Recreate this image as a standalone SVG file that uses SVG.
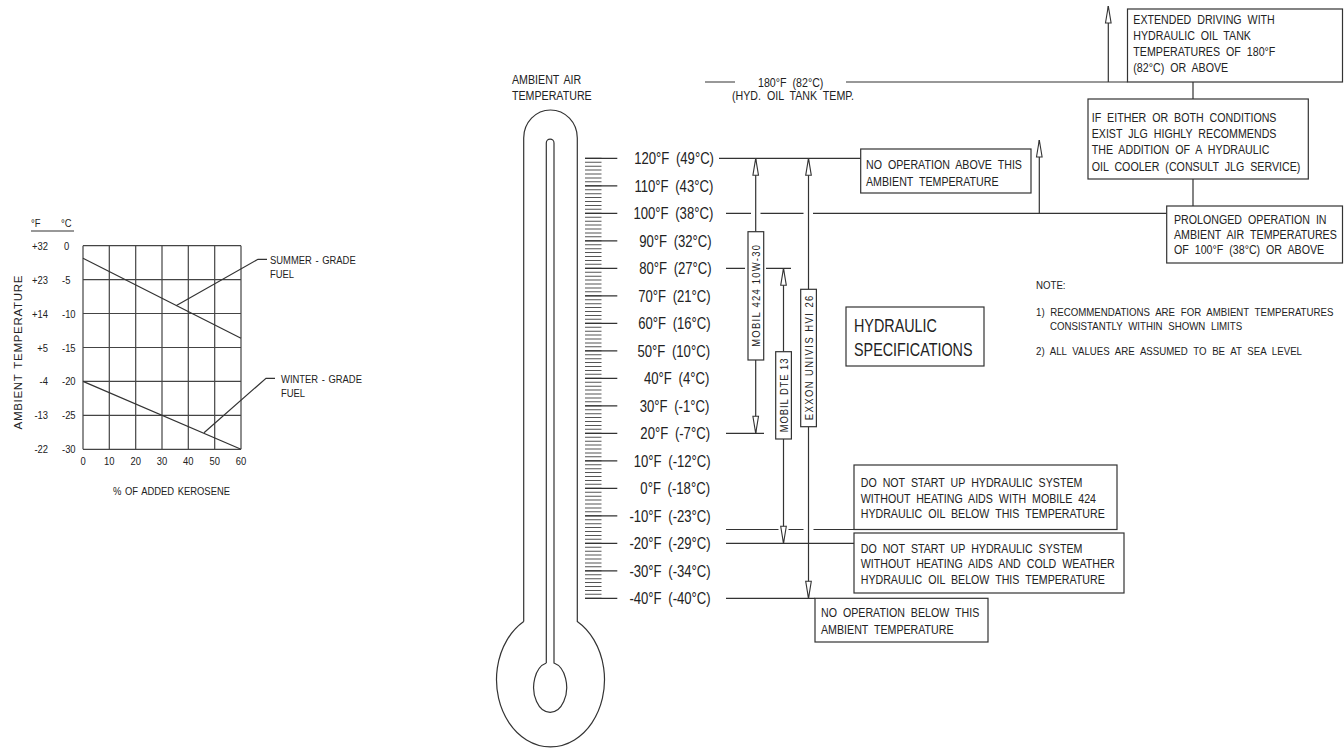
<svg xmlns="http://www.w3.org/2000/svg" width="1344" height="749" viewBox="0 0 1344 749">
<defs>
<style>
.ln{stroke:#333;stroke-width:1.2;fill:none}
.gl{stroke:#444;stroke-width:1.2;fill:none}
.box{fill:#fff;stroke:#333;stroke-width:1.2}
.f{font-family:"Liberation Sans",Arial,sans-serif;fill:#222}
.s11{font-size:11.5px;word-spacing:1.2px}
.s12{font-size:13px;word-spacing:3.66px}
.nt{font-size:11.8px;word-spacing:3.66px}
.hd{font-size:13px;word-spacing:2.4px}
.tl{font-size:16px;word-spacing:3.7px;text-anchor:end}
.big{font-size:17.5px;word-spacing:2.4px}
.bar{font-size:11.5px;text-anchor:middle}
.mid{text-anchor:middle}
.end{text-anchor:end}
.arr{marker-end:url(#ah)}
</style>
<marker id="ah" markerUnits="userSpaceOnUse" markerWidth="20" markerHeight="10" viewBox="-1 -5 20 10" refX="17" refY="0" orient="auto">
<path d="M17 0 L0 -2.8 L0 2.8 Z" fill="#fff" stroke="#333" stroke-width="1.1"/>
</marker>
</defs>
<rect width="1344" height="749" fill="#fff"/>

<!-- Left chart: kerosene -->
<g id="kerosene-chart">
<path class="gl" d="M83 245.7V449.3M109.3 245.7V449.3M135.7 245.7V449.3M162 245.7V449.3M188.3 245.7V449.3M214.7 245.7V449.3M241 245.7V449.3M83 245.7H241M83 279.6H241M83 313.5H241M83 347.5H241M83 381.4H241M83 415.3H241M83 449.3H241"/>
<path class="ln" d="M83 258.3L241 338.3M83 381.4L241 449.3"/>
<path class="ln" d="M176 305.7L258 259.3H267M204 432.7L266 378.3H275M31 231H74"/>
<g class="f s11">
<text transform="matrix(.82 0 0 1 31 227)">°F</text><text transform="matrix(.82 0 0 1 61 227)">°C</text>
<text class="end" transform="matrix(.82 0 0 1 48 249.7)">+32</text><text transform="matrix(.82 0 0 1 64 249.7)">0</text>
<text class="end" transform="matrix(.82 0 0 1 48 283.6)">+23</text><text transform="matrix(.82 0 0 1 62 283.6)">-5</text>
<text class="end" transform="matrix(.82 0 0 1 48 317.5)">+14</text><text transform="matrix(.82 0 0 1 62 317.5)">-10</text>
<text class="end" transform="matrix(.82 0 0 1 48 351.5)">+5</text><text transform="matrix(.82 0 0 1 62 351.5)">-15</text>
<text class="end" transform="matrix(.82 0 0 1 48 385.4)">-4</text><text transform="matrix(.82 0 0 1 62 385.4)">-20</text>
<text class="end" transform="matrix(.82 0 0 1 48 419.3)">-13</text><text transform="matrix(.82 0 0 1 62 419.3)">-25</text>
<text class="end" transform="matrix(.82 0 0 1 48 453.3)">-22</text><text transform="matrix(.82 0 0 1 62 453.3)">-30</text>
<text class="mid" transform="matrix(.82 0 0 1 83 465)">0</text>
<text class="mid" transform="matrix(.82 0 0 1 109.3 465)">10</text>
<text class="mid" transform="matrix(.82 0 0 1 135.7 465)">20</text>
<text class="mid" transform="matrix(.82 0 0 1 162 465)">30</text>
<text class="mid" transform="matrix(.82 0 0 1 188.3 465)">40</text>
<text class="mid" transform="matrix(.82 0 0 1 214.7 465)">50</text>
<text class="mid" transform="matrix(.82 0 0 1 241 465)">60</text>
<text transform="matrix(.82 0 0 1 270 263.5)">SUMMER - GRADE</text><text transform="matrix(.82 0 0 1 270 277.5)">FUEL</text>
<text transform="matrix(.82 0 0 1 281 382.5)">WINTER - GRADE</text><text transform="matrix(.82 0 0 1 281 397)">FUEL</text>
<text transform="matrix(.82 0 0 1 113 495)">% OF ADDED KEROSENE</text>
<text class="mid" transform="translate(17.5 352.5) rotate(-90)" x="0" y="4" textLength="154" lengthAdjust="spacing">AMBIENT TEMPERATURE</text>
</g>
</g>

<!-- Thermometer -->
<g id="thermometer">
<path class="ln" d="M523.7 621.5V138A26.8 28 0 0 1 577.3 138V621.5A54 67.1 0 1 1 523.7 621.5"/>
<path class="ln" d="M546.3 663V143A3.85 3.85 0 0 1 554 143V663A16.5 25 0 1 1 546.3 663"/>
<line x1="593.25" y1="157.8" x2="593.25" y2="598.8" stroke="#555" stroke-width="16.5" stroke-dasharray="1 2.9286"/>
<path class="ln" d="M585 158.3H617.3M585 185.8H617.3M585 213.3H617.3M585 240.8H617.3M585 268.3H617.3M585 295.8H617.3M585 323.3H617.3M585 350.8H617.3M585 378.3H617.3M585 405.8H617.3M585 433.3H617.3M585 460.8H617.3M585 488.3H617.3M585 515.8H617.3M585 543.3H617.3M585 570.8H617.3M585 598.3H617.3"/>
<text class="f hd" transform="matrix(.82 0 0 1 512 84)">AMBIENT AIR</text>
<text class="f hd" transform="matrix(.82 0 0 1 512 100)">TEMPERATURE</text>
</g>

<g id="temperature-labels" class="f tl">
<text transform="matrix(.82 0 0 1 714 164)">120°F (49°C)</text>
<text transform="matrix(.82 0 0 1 713.3 191.5)">110°F (43°C)</text>
<text transform="matrix(.82 0 0 1 713.3 219)">100°F (38°C)</text>
<text transform="matrix(.82 0 0 1 711.7 246.5)">90°F (32°C)</text>
<text transform="matrix(.82 0 0 1 711.7 274)">80°F (27°C)</text>
<text transform="matrix(.82 0 0 1 710.7 301.5)">70°F (21°C)</text>
<text transform="matrix(.82 0 0 1 710.7 329)">60°F (16°C)</text>
<text transform="matrix(.82 0 0 1 710 356.5)">50°F (10°C)</text>
<text transform="matrix(.82 0 0 1 709.3 384)">40°F (4°C)</text>
<text transform="matrix(.82 0 0 1 709.3 411.5)">30°F (-1°C)</text>
<text transform="matrix(.82 0 0 1 710 439)">20°F (-7°C)</text>
<text transform="matrix(.82 0 0 1 710.7 466.5)">10°F (-12°C)</text>
<text transform="matrix(.82 0 0 1 710 494)">0°F (-18°C)</text>
<text transform="matrix(.82 0 0 1 710.7 521.5)">-10°F (-23°C)</text>
<text transform="matrix(.82 0 0 1 710.7 549)">-20°F (-29°C)</text>
<text transform="matrix(.82 0 0 1 710.7 576.5)">-30°F (-34°C)</text>
<text transform="matrix(.82 0 0 1 710.7 604)">-40°F (-40°C)</text>
</g>

<!-- Connectors -->
<g id="connectors">
<path class="ln" d="M719 158.3H860.7"/>
<path class="ln" d="M726 213.3H751M760.5 213.3H803.5M813 213.3H1166.7"/>
<path class="ln" d="M726 268.3H745M766 268.3H791"/>
<path class="ln" d="M726 433.3H764"/>
<path class="ln" d="M726 529.5H778.5M788.5 529.5H803.5M813.5 529.5H854"/>
<path class="ln" d="M726 543.3H854"/>
<path class="ln" d="M726 598.3H815"/>
<path class="ln" d="M705 82H735M846 82H1127.5"/>
<path class="ln" d="M1193 82V99M1193 179V206"/>
<line class="ln arr" x1="1108.3" y1="82" x2="1108.3" y2="6"/>
<line class="ln arr" x1="1039.3" y1="213.3" x2="1039.3" y2="140"/>
<line class="ln arr" x1="755.7" y1="231.7" x2="755.7" y2="158.3"/>
<line class="ln arr" x1="755.7" y1="360" x2="755.7" y2="433.3"/>
<line class="ln arr" x1="783.5" y1="351.7" x2="783.5" y2="268.3"/>
<line class="ln arr" x1="783.5" y1="439" x2="783.5" y2="543.3"/>
<line class="ln arr" x1="808.5" y1="289.3" x2="808.5" y2="158.3"/>
<line class="ln arr" x1="808.5" y1="426.7" x2="808.5" y2="598.3"/>
<text class="f s12" transform="matrix(.82 0 0 1 758 86.5)">180°F (82°C)</text>
<text class="f s12" transform="matrix(.82 0 0 1 732 100)">(HYD. OIL TANK TEMP.</text>
</g>

<!-- Oil bars -->
<g id="bar-mobil-424">
<rect class="box" x="748" y="231.7" width="15.7" height="128.3"/>
<text class="f bar" transform="translate(755.9 295.9) rotate(-90) scale(.82 1)" x="0" y="4" textLength="124" lengthAdjust="spacing">MOBIL 424 10W-30</text>
</g>
<g id="bar-mobil-dte-13">
<rect class="box" x="775.7" y="351.7" width="15.7" height="87.3"/>
<text class="f bar" transform="translate(783.6 395.4) rotate(-90) scale(.82 1)" x="0" y="4" textLength="90" lengthAdjust="spacing">MOBIL DTE 13</text>
</g>
<g id="bar-exxon">
<rect class="box" x="800.7" y="289.3" width="15.7" height="137.4"/>
<text class="f bar" transform="translate(808.6 358) rotate(-90) scale(.82 1)" x="0" y="4" textLength="152" lengthAdjust="spacing">EXXON UNIVIS HVI 26</text>
</g>

<!-- Boxes -->
<g id="box-no-op-above" class="f s12">
<rect class="box" x="860.7" y="149" width="170.3" height="44"/>
<text transform="matrix(.82 0 0 1 866 168.5)">NO OPERATION ABOVE THIS</text>
<text transform="matrix(.82 0 0 1 866 185.5)">AMBIENT TEMPERATURE</text>
</g>
<g id="box-hydraulic-spec" class="f big">
<rect class="box" x="846" y="307" width="138" height="59"/>
<text transform="matrix(.82 0 0 1 854 332)">HYDRAULIC</text>
<text transform="matrix(.82 0 0 1 854 356)">SPECIFICATIONS</text>
</g>
<g id="box-extended" class="f s12">
<rect class="box" x="1127.5" y="9" width="215" height="73"/>
<text transform="matrix(.82 0 0 1 1133.3 24)">EXTENDED DRIVING WITH</text>
<text transform="matrix(.82 0 0 1 1133.3 40)">HYDRAULIC OIL TANK</text>
<text transform="matrix(.82 0 0 1 1133.3 56)">TEMPERATURES OF 180°F</text>
<text transform="matrix(.82 0 0 1 1133.3 72)">(82°C) OR ABOVE</text>
</g>
<g id="box-if-either" class="f s12">
<rect class="box" x="1088" y="99" width="220.3" height="80"/>
<text transform="matrix(.82 0 0 1 1091.7 121.5)">IF EITHER OR BOTH CONDITIONS</text>
<text transform="matrix(.82 0 0 1 1091.7 137.5)">EXIST JLG HIGHLY RECOMMENDS</text>
<text transform="matrix(.82 0 0 1 1091.7 154)">THE ADDITION OF A HYDRAULIC</text>
<text transform="matrix(.82 0 0 1 1091.7 170.5)">OIL COOLER (CONSULT JLG SERVICE)</text>
</g>
<g id="box-prolonged" class="f s12">
<rect class="box" x="1166.7" y="206" width="175.8" height="57"/>
<text transform="matrix(.82 0 0 1 1174 223.5)">PROLONGED OPERATION IN</text>
<text transform="matrix(.82 0 0 1 1174 238.5)">AMBIENT AIR TEMPERATURES</text>
<text transform="matrix(.82 0 0 1 1174 254)">OF 100°F (38°C) OR ABOVE</text>
</g>
<g id="notes" class="f nt">
<text transform="matrix(.82 0 0 1 1036 289)">NOTE:</text>
<text transform="matrix(.82 0 0 1 1036 315.5)">1) RECOMMENDATIONS ARE FOR AMBIENT TEMPERATURES</text>
<text transform="matrix(.82 0 0 1 1050 330)">CONSISTANTLY WITHIN SHOWN LIMITS</text>
<text transform="matrix(.82 0 0 1 1036 354.5)">2) ALL VALUES ARE ASSUMED TO BE AT SEA LEVEL</text>
</g>
<g id="box-mobile-424" class="f s12">
<rect class="box" x="854" y="465" width="263" height="64.5"/>
<text transform="matrix(.82 0 0 1 860.7 486.5)">DO NOT START UP HYDRAULIC SYSTEM</text>
<text transform="matrix(.82 0 0 1 860.7 502.5)">WITHOUT HEATING AIDS WITH MOBILE 424</text>
<text transform="matrix(.82 0 0 1 860.7 518)">HYDRAULIC OIL BELOW THIS TEMPERATURE</text>
</g>
<g id="box-cold-weather" class="f s12">
<rect class="box" x="854" y="533" width="270" height="60"/>
<text transform="matrix(.82 0 0 1 860.7 552.5)">DO NOT START UP HYDRAULIC SYSTEM</text>
<text transform="matrix(.82 0 0 1 860.7 568)">WITHOUT HEATING AIDS AND COLD WEATHER</text>
<text transform="matrix(.82 0 0 1 860.7 584)">HYDRAULIC OIL BELOW THIS TEMPERATURE</text>
</g>
<g id="box-no-op-below" class="f s12">
<rect class="box" x="815" y="598.3" width="173" height="43.7"/>
<text transform="matrix(.82 0 0 1 821 616.5)">NO OPERATION BELOW THIS</text>
<text transform="matrix(.82 0 0 1 821 634)">AMBIENT TEMPERATURE</text>
</g>
</svg>
